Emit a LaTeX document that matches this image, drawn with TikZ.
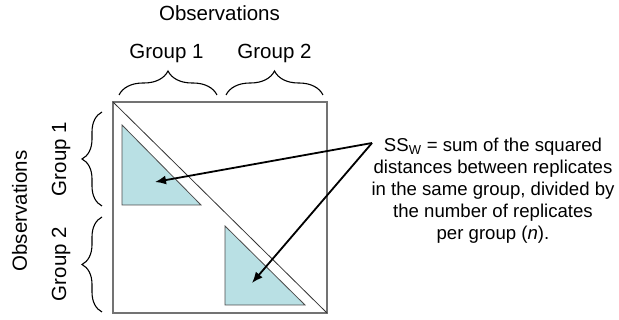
\documentclass[tikz,border=0pt]{standalone}
\usepackage{fontspec}
\setmainfont{Liberation Sans}
\usetikzlibrary{decorations.pathreplacing,arrows.meta,positioning}
\definecolor{wfill}{RGB}{185,224,228}
\tikzset{
  grp/.style={
    font=\fontsize{20.5}{24}\selectfont,
    inner sep=0pt
  },
  note/.style={
    font=\fontsize{18.6}{22}\selectfont,
    align=center,
    inner sep=0pt
  },
  bracket/.style={
    decorate,
    decoration={brace, amplitude=#1, aspect=0.5},
    line width=1.1pt
  },
  block/.style={
    draw=black!70,
    fill=wfill,
    line width=0.8pt
  },
  pointer/.style={
    -{Latex[length=11pt,width=9pt]},
    line width=1.8pt
  }
}

\begin{document}
\begin{tikzpicture}[x=1pt,y=-1pt]
    \useasboundingbox (0,0) rectangle (619,320);
    % matrix of distances
    \draw[draw=black!55, line width=1.4pt] (113,102) rectangle (327,313);
    \draw[line width=0.8pt, black!80] (113,102) -- (327,313);
    \draw[block] (122,125) -- (201,205) -- (122,205) -- cycle;
    \draw[block] (225,226) -- (305,305) -- (225,305) -- cycle;
    % labels on top
    \node[grp] (obsTop) at (219.5,13) {Observations};
    \node[grp] (gTopA) at (166.5,53) {Group 1};
    \node[grp] (gTopB) at (274.5,53) {Group 2};
    \draw[bracket=24pt] (119,95) -- (217,95);
    \draw[bracket=24pt] (226,95) -- (323,95);
    % labels on the left
    \node[grp, rotate=90] (obsLeft) at (19.5,211) {Observations};
    \node[grp, rotate=90] (gLeftA) at (61,159) {Group 1};
    \node[grp, rotate=90] (gLeftB) at (61,264) {Group 2};
    \draw[bracket=20pt] (102,206) -- (102,112);
    \draw[bracket=20pt] (102,312) -- (102,217);
    % explanation
    \node[note] (ssw) at (493,191) {SS\textsubscript{W} = sum of the squared\\
      distances between replicates\\
      in the same group, divided by\\
      the number of replicates\\
      per group (\textit{n}).};
    \coordinate (src) at (372,143);
    \coordinate (tipA) at (155,182);
    \coordinate (tipB) at (252,283);
    \draw[pointer] (src) -- (tipA);
    \draw[pointer] (src) -- (tipB);
\end{tikzpicture}
\end{document}
